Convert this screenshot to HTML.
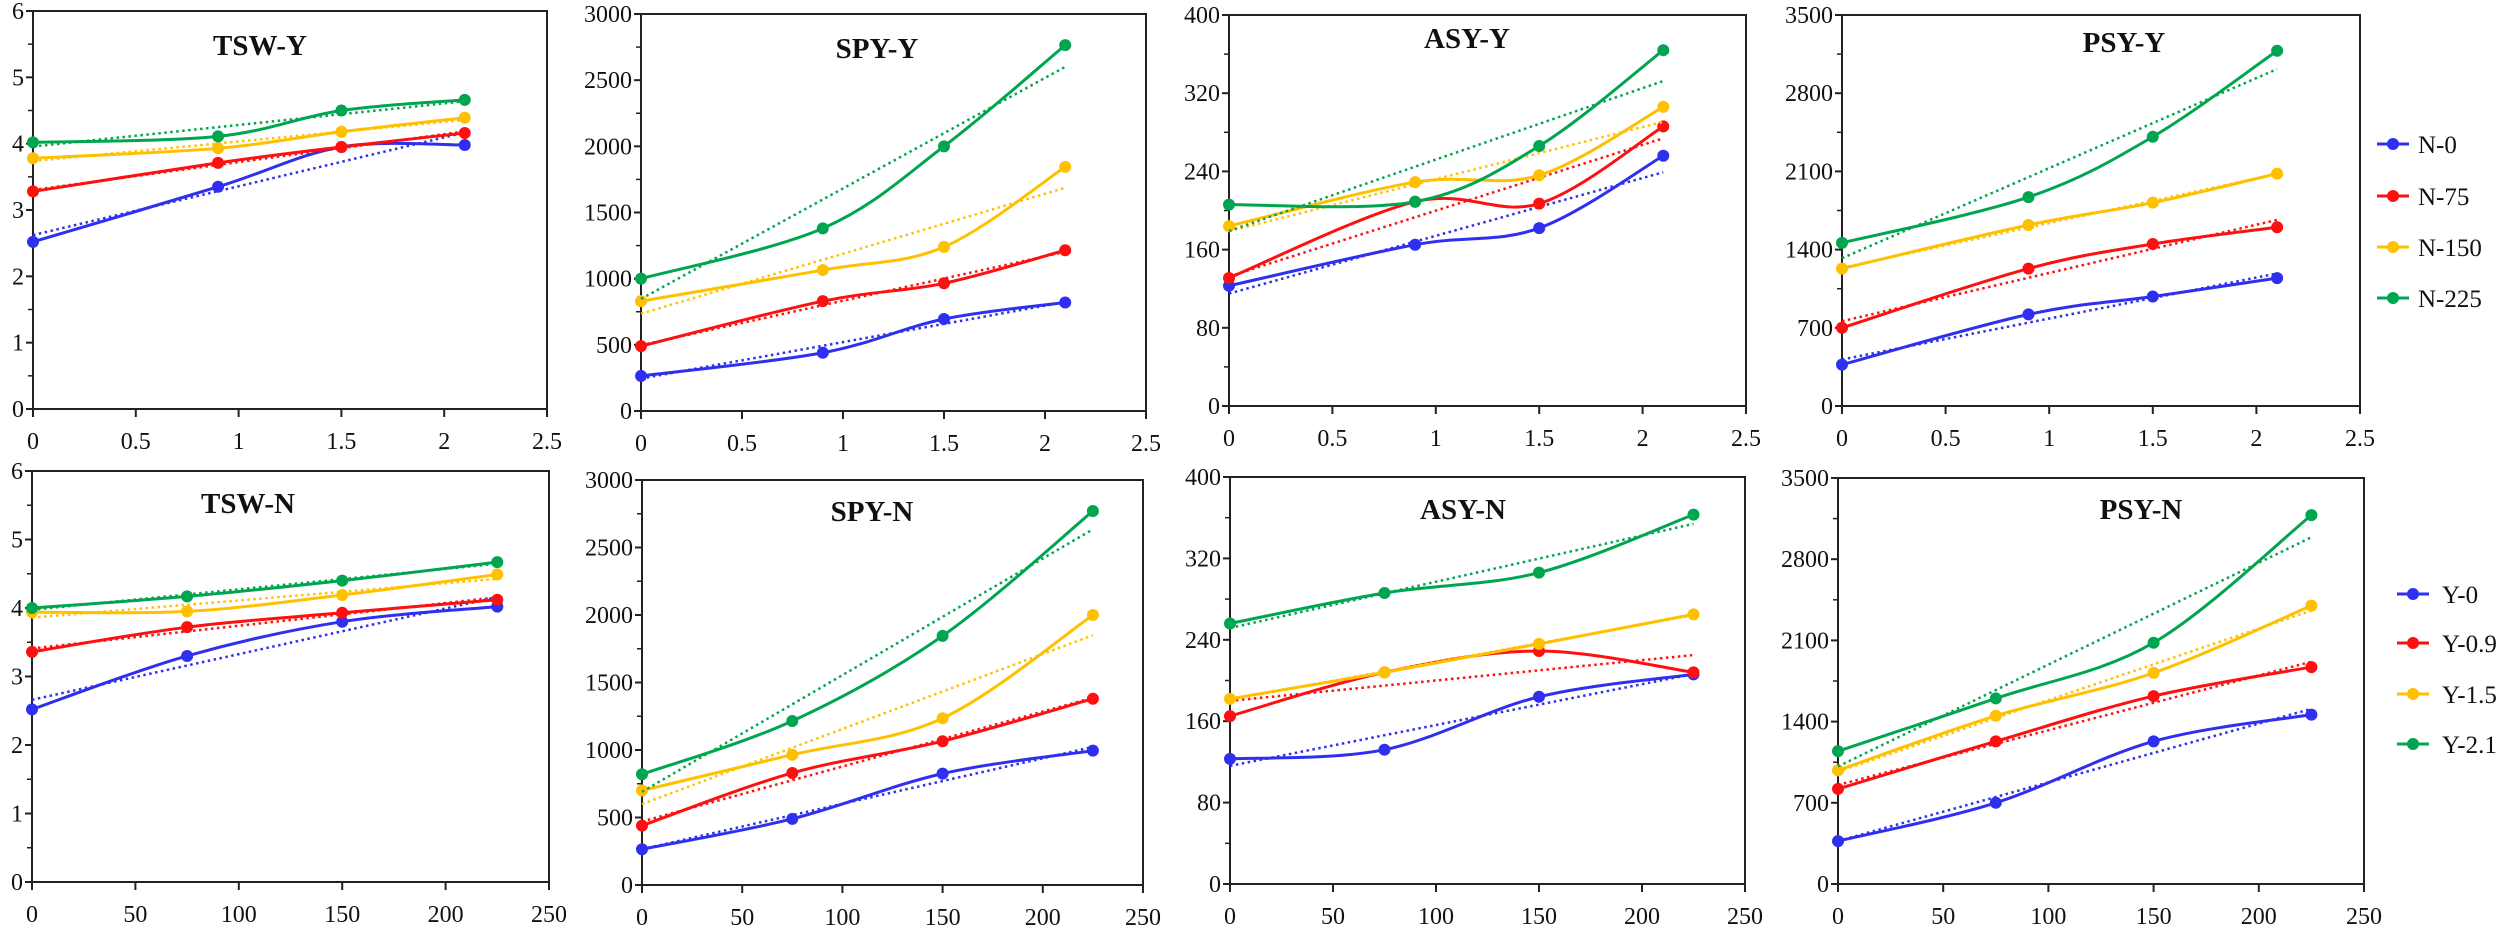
<!DOCTYPE html>
<html><head><meta charset="utf-8">
<style>
html,body{margin:0;padding:0;background:#fff;}
svg{display:block;font-family:"Liberation Serif",serif;}
</style></head>
<body>
<svg id="chart" width="2500" height="929" viewBox="0 0 2500 929" xmlns="http://www.w3.org/2000/svg"></svg>
<script>
const colors = ["#2f2ff0","#ff1010","#ffc000","#00a550"];
const legendRow1 = ["N-0","N-75","N-150","N-225"];
const legendRow2 = ["Y-0","Y-0.9","Y-1.5","Y-2.1"];
const xRow1 = [0,0.9,1.5,2.1];
const xRow2 = [0,75,150,225];
const xTicksRow1 = [0,0.5,1,1.5,2,2.5];
const xTicksRow2 = [0,50,100,150,200,250];
const yTicksTSW = [0,1,2,3,4,5,6];
const yTicksSPY = [0,500,1000,1500,2000,2500,3000];
const yTicksASY = [0,80,160,240,320,400];
const yTicksPSY = [0,700,1400,2100,2800,3500];
// TSW-Y series
const tswY_N0 = [2.52,3.35,3.95,3.98];
const tswY_N75 = [3.28,3.71,3.95,4.16];
const tswY_N150 = [3.78,3.93,4.18,4.39];
const tswY_N225 = [4.02,4.11,4.50,4.66];
// SPY-Y series
const spyY_N0 = [265,440,695,820];
const spyY_N75 = [490,830,965,1215];
const spyY_N150 = [830,1065,1240,1845];
const spyY_N225 = [1000,1380,2000,2765];
// ASY-Y series
const asyY_N0 = [123,165,182,256];
const asyY_N75 = [131,209,207,286];
const asyY_N150 = [184,229,236,306];
const asyY_N225 = [206,209,266,364];
// PSY-Y series
const psyY_N0 = [370,820,980,1145];
const psyY_N75 = [700,1230,1450,1600];
const psyY_N150 = [1230,1620,1820,2080];
const psyY_N225 = [1460,1870,2410,3180];
// TSW-N series
const tswN_Y0 = [2.52,3.30,3.80,4.02];
const tswN_Y09 = [3.36,3.72,3.93,4.12];
const tswN_Y15 = [3.94,3.95,4.19,4.49];
const tswN_Y21 = [4.00,4.17,4.40,4.67];
// SPY-N series
const spyN_Y0 = [265,490,825,995];
const spyN_Y09 = [440,830,1065,1380];
const spyN_Y15 = [700,965,1235,2000];
const spyN_Y21 = [820,1215,1845,2770];
// ASY-N series
const asyN_Y0 = [123,132,184,206];
const asyN_Y09 = [165,208,229,208];
const asyN_Y15 = [182,208,236,265];
const asyN_Y21 = [256,286,306,363];
// PSY-N series
const psyN_Y0 = [370,700,1230,1460];
const psyN_Y09 = [820,1230,1620,1870];
const psyN_Y15 = [980,1450,1820,2400];
const psyN_Y21 = [1145,1600,2080,3180];

const NS="http://www.w3.org/2000/svg";
const svg=document.getElementById('chart');
function mk(tag,attrs,parent){const e=document.createElementNS(NS,tag);for(const k in attrs)e.setAttribute(k,attrs[k]);(parent||svg).appendChild(e);return e;}

const panels=[
 {id:"tsw-y",title:"TSW-Y",L:33,R:547,T:11,B:409,tx:260,ty:45,yt:yTicksTSW,minor:0.5,xs:xRow1,xt:xTicksRow1,series:[tswY_N0,tswY_N75,tswY_N150,tswY_N225],names:legendRow1},
 {id:"spy-y",title:"SPY-Y",L:641,R:1146,T:14,B:411,tx:877,ty:48,yt:yTicksSPY,minor:250,xs:xRow1,xt:xTicksRow1,series:[spyY_N0,spyY_N75,spyY_N150,spyY_N225],names:legendRow1},
 {id:"asy-y",title:"ASY-Y",L:1229,R:1746,T:15,B:406,tx:1467,ty:38,yt:yTicksASY,minor:40,xs:xRow1,xt:xTicksRow1,series:[asyY_N0,asyY_N75,asyY_N150,asyY_N225],names:legendRow1},
 {id:"psy-y",title:"PSY-Y",L:1842,R:2360,T:15,B:406,tx:2124,ty:42,yt:yTicksPSY,minor:350,xs:xRow1,xt:xTicksRow1,series:[psyY_N0,psyY_N75,psyY_N150,psyY_N225],names:legendRow1},
 {id:"tsw-n",title:"TSW-N",L:32,R:549,T:471,B:882,tx:248,ty:503,yt:yTicksTSW,minor:0.5,xs:xRow2,xt:xTicksRow2,series:[tswN_Y0,tswN_Y09,tswN_Y15,tswN_Y21],names:legendRow2},
 {id:"spy-n",title:"SPY-N",L:642,R:1143,T:480,B:885,tx:872,ty:511,yt:yTicksSPY,minor:250,xs:xRow2,xt:xTicksRow2,series:[spyN_Y0,spyN_Y09,spyN_Y15,spyN_Y21],names:legendRow2},
 {id:"asy-n",title:"ASY-N",L:1230,R:1745,T:477,B:884,tx:1463,ty:509,yt:yTicksASY,minor:40,xs:xRow2,xt:xTicksRow2,series:[asyN_Y0,asyN_Y09,asyN_Y15,asyN_Y21],names:legendRow2},
 {id:"psy-n",title:"PSY-N",L:1838,R:2364,T:478,B:884,tx:2141,ty:509,yt:yTicksPSY,minor:350,xs:xRow2,xt:xTicksRow2,series:[psyN_Y0,psyN_Y09,psyN_Y15,psyN_Y21],names:legendRow2}
];

function smoothPath(pts){
  let d="M"+pts[0][0]+","+pts[0][1];
  for(let i=0;i<pts.length-1;i++){
    const p0=pts[i-1]||pts[i],p1=pts[i],p2=pts[i+1],p3=pts[i+2]||p2;
    const t=1/6;
    const c1=[p1[0]+(p2[0]-p0[0])*t,p1[1]+(p2[1]-p0[1])*t];
    const c2=[p2[0]-(p3[0]-p1[0])*t,p2[1]-(p3[1]-p1[1])*t];
    d+=" C"+c1[0]+","+c1[1]+" "+c2[0]+","+c2[1]+" "+p2[0]+","+p2[1];
  }
  return d;
}
function regress(xs,ys){
  const n=xs.length;let mx=0,my=0;for(let i=0;i<n;i++){mx+=xs[i];my+=ys[i];}mx/=n;my/=n;
  let sxy=0,sxx=0;for(let i=0;i<n;i++){sxy+=(xs[i]-mx)*(ys[i]-my);sxx+=(xs[i]-mx)**2;}
  const b=sxy/sxx;return [my-b*mx,b];
}

panels.forEach(p=>{
  const g=mk('g',{});
  
  
  const ymax=p.yt[p.yt.length-1], xmax=p.xt[p.xt.length-1];
  const sx=v=>p.L+(v/xmax)*(p.R-p.L);
  const sy=v=>p.B-(v/ymax)*(p.B-p.T);
  // frame
  const fr=mk('rect',{x:p.L,y:p.T,width:p.R-p.L,height:p.B-p.T,fill:'none',stroke:'#222','stroke-width':2},g);
  
  
  // y ticks
  for(let i=0;i<p.yt.length;i++){
    const v=p.yt[i];
    mk('line',{x1:p.L-7,x2:p.L,y1:sy(v),y2:sy(v),stroke:'#222','stroke-width':2},g);
    const t=mk('text',{x:p.L-9,y:sy(v)+8,'text-anchor':'end','font-size':24,fill:'#111'},g);
    t.textContent=String(v);
    
    
    if(i<p.yt.length-1){const m=v+p.minor;mk('line',{x1:p.L-5,x2:p.L,y1:sy(m),y2:sy(m),stroke:'#222','stroke-width':1.5},g);}
  }
  // x ticks
  p.xt.forEach(v=>{
    mk('line',{x1:sx(v),x2:sx(v),y1:p.B,y2:p.B+8,stroke:'#222','stroke-width':2},g);
    const t=mk('text',{x:sx(v),y:p.B+40,'text-anchor':'middle','font-size':24,fill:'#111'},g);
    t.textContent=String(v);
    
    
  });
  // title
  const tt=mk('text',{x:p.tx,y:p.ty+10,'text-anchor':'middle','font-size':29,'font-weight':'bold',fill:'#111'},g);
  tt.textContent=p.title;
  
  
  // series
  p.series.forEach((ys,si)=>{
    const c=colors[si];
    const [a,b]=regress(p.xs,ys);
    const x0=p.xs[0],x1=p.xs[p.xs.length-1];
    const tl=mk('line',{x1:sx(x0),y1:sy(a+b*x0),x2:sx(x1),y2:sy(a+b*x1),stroke:c,'stroke-width':2.5,'stroke-dasharray':'2.5 3.5'},g);
    
    
    const pts=p.xs.map((x,i)=>[sx(x),sy(ys[i])]);
    const pa=mk('path',{d:smoothPath(pts),fill:'none',stroke:c,'stroke-width':3},g);
    
    
    pts.forEach(pt=>{
      const ci=mk('circle',{cx:pt[0],cy:pt[1],r:6,fill:c},g);
      
      
    });
  });
});

function legend(names,lx,tx,ys,tag){
  names.forEach((n,i)=>{
    const g=mk('g',{});
    
    
    mk('line',{x1:lx,x2:lx+32,y1:ys[i],y2:ys[i],stroke:colors[i],'stroke-width':3},g);
    mk('circle',{cx:lx+16,cy:ys[i],r:6,fill:colors[i]},g);
    const t=mk('text',{x:tx,y:ys[i]+9,'font-size':25,fill:'#111'},g);
    t.textContent=n;
  });
}
legend(legendRow1,2377,2418,[144,196,247,298],'row1');
legend(legendRow2,2397,2442,[594,643,694,744],'row2');
</script>
</body></html>
